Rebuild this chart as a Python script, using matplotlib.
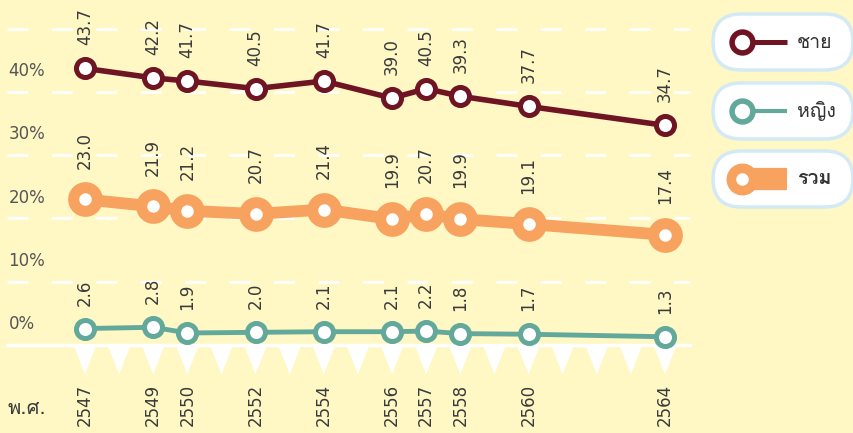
import matplotlib
matplotlib.use("Agg")
import matplotlib.pyplot as plt
from matplotlib import font_manager
from matplotlib.ft2font import FT2Font
from matplotlib.patches import FancyBboxPatch, Polygon

# ---- data -----------------------------------------------------------------
years = [2547, 2549, 2550, 2552, 2554, 2556, 2557, 2558, 2560, 2564]
male = [43.7, 42.2, 41.7, 40.5, 41.7, 39.0, 40.5, 39.3, 37.7, 34.7]
female = [2.6, 2.8, 1.9, 2.0, 2.1, 2.1, 2.2, 1.8, 1.7, 1.3]
total = [23.0, 21.9, 21.2, 20.7, 21.4, 19.9, 20.7, 19.9, 19.1, 17.4]
y_ticks = [0, 10, 20, 30, 40]
grid_levels = [10, 20, 30, 40, 50]
series_names = ["ชาย", "หญิง", "รวม"]

BG = "#FFF8C5"
C_MALE = "#6E1423"
C_FEMALE = "#62A89B"
C_TOTAL = "#F7A35F"
TXT = "#3A3A3A"


def find_thai_font():
    # first installed font that has Thai glyphs
    for f in font_manager.fontManager.ttflist:
        try:
            if 0x0E0A in FT2Font(f.fname).get_charmap():
                return f.name
        except Exception:
            pass
    return None


thai = find_thai_font()
plt.rcParams["font.family"] = ["DejaVu Sans"] + ([thai] if thai else [])

W, H = 854, 433
fig = plt.figure(figsize=(W / 100, H / 100), dpi=100)
fig.patch.set_facecolor(BG)
ax = fig.add_axes([0, 0, 1, 1])
ax.set_facecolor(BG)
ax.axis("off")

# pixel scale of the original layout
PX_YR = (665 - 85) / 17
PX_PCT = 6.33
x0 = 2547 - 85 / PX_YR
ax.set_xlim(x0, x0 + W / PX_YR)
ax.set_ylim(-(H - 345) / PX_PCT, 345 / PX_PCT)

xl, xr = x0 + 7 / PX_YR, x0 + 690 / PX_YR

# grid
for g in grid_levels:
    ax.plot([xl, xr], [g, g], color="white", lw=2, ls=(0, (7.5, 8.5)), zorder=1)
ax.plot([xl, xr], [0, 0], color="white", lw=2.5, zorder=1)

# y tick labels sit above their grid line
for t in y_ticks:
    ax.annotate(f"{t}%", (xl, t), xytext=(1, 15), textcoords="offset points",
                ha="left", va="center", fontsize=12, color="#555555")

# white triangles under baseline, one per year
tw = 11 / PX_YR
th = 28 / PX_PCT
for yr in range(years[0], years[-1] + 1):
    ax.add_patch(Polygon([(yr - tw, -0.2), (yr + tw, -0.2), (yr, -0.2 - th)],
                         closed=True, fc="white", ec="none", zorder=1))

# year labels
for yr in years:
    ax.text(yr, -(384 - 345) / PX_PCT, str(yr), rotation=90, ha="center", va="top",
            fontsize=12, color=TXT)
ax.text(xl + 1 / PX_YR, -(409 - 345) / PX_PCT, "พ.ศ.", ha="left", va="center",
        fontsize=14.5, color=TXT)

# series
ax.plot(years, male, color=C_MALE, lw=4, marker="o", ms=13, mew=3.6,
        mfc="white", mec=C_MALE, zorder=4, solid_capstyle="butt")
ax.plot(years, female, color=C_FEMALE, lw=3.5, marker="o", ms=13, mew=3.6,
        mfc="white", mec=C_FEMALE, zorder=4)
ax.plot(years, total, color=C_TOTAL, lw=8.5, marker="o", ms=17, mew=8,
        mfc="white", mec=C_TOTAL, zorder=3)

for vals, off in [(male, 16.5), (female, 16.5), (total, 22)]:
    for x, v in zip(years, vals):
        ax.annotate(f"{v:.1f}", (x, v), xytext=(0, off), textcoords="offset points",
                    rotation=90, ha="center", va="bottom", fontsize=12, color=TXT)

# legend pills (pixel overlay)
lg = fig.add_axes([0, 0, 1, 1])
lg.set_xlim(0, W)
lg.set_ylim(H, 0)
lg.axis("off")
lg.patch.set_alpha(0)
centers = [42, 111, 179]
for name, cy, col in zip(series_names, centers, [C_MALE, C_FEMALE, C_TOTAL]):
    lg.add_patch(FancyBboxPatch((713, cy - 28), 140, 56,
                                boxstyle="round,pad=0,rounding_size=28",
                                fc="white", ec="#D3EAF4", lw=2.5))
    if col == C_TOTAL:
        lg.plot([742, 787], [cy, cy], color=col, lw=16, solid_capstyle="butt")
        lg.plot([742], [cy], marker="o", ms=16, mew=7, mfc="white", mec=col)
    else:
        lg.plot([742, 787], [cy, cy], color=col, lw=3.6 if col == C_MALE else 3,
                solid_capstyle="butt")
        lg.plot([742], [cy], marker="o", ms=15, mew=4, mfc="white", mec=col)
    lg.text(797, cy, name, ha="left", va="center", fontsize=14, color="#333333",
            fontweight="bold" if col == C_TOTAL else "normal")

fig.savefig("out.png", dpi=100, facecolor=BG)
